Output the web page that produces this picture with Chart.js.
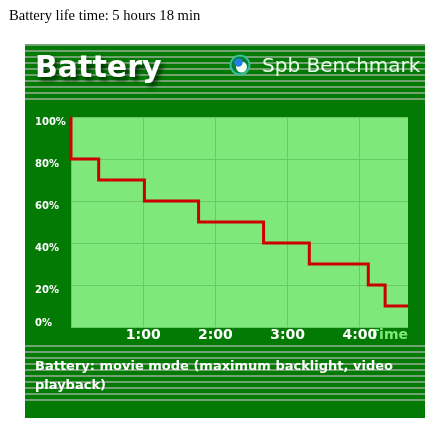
<!DOCTYPE html>
<html>
<head>
<meta charset="utf-8">
<title>Battery</title>
<script src="https://cdn.jsdelivr.net/npm/chart.js@4.4.1/dist/chart.umd.min.js"></script>
<style>
  html, body { margin: 0; padding: 0; background: #fff; }
  #wrap { position: relative; width: 440px; height: 427px; }
  #caption {
    position: absolute; left: 9px; top: 8px;
    font: 14.6px/15px "Liberation Serif", "Times New Roman", serif;
    color: #000; white-space: nowrap;
  }
  canvas { position: absolute; left: 0; top: 0; }
</style>
</head>
<body>
<div id="wrap">
  <canvas id="chart" width="440" height="427"></canvas>
  <div id="caption">Battery life time: 5 hours 18 min</div>
</div>
<script>
// battery readings: minutes since start / percent left
const minutes = [0, 0, 23, 61, 106, 160, 198, 247, 261, 280];
const charge = [100, 80, 70, 60, 50, 40, 30, 20, 10, 10];

const hourTicks = [60, 120, 180, 240];
const hourLabels = ['1:00', '2:00', '3:00', '4:00'];
const percentTicks = [0, 20, 40, 60, 80, 100];
const percentLabels = ['0%', '20%', '40%', '60%', '80%', '100%'];

const chartTitle = 'Battery';
const brand = 'Spb Benchmark';
const testNote = ['Battery: movie mode (maximum backlight, video', 'playback)'];

const PANEL_GREEN = '#037a03';
const STRIPE = '#72a272';
const PLOT_GREEN = '#7ee87b';
const GRID = '#69c967';
const LINE_RED = '#cc0000';

Chart.defaults.font.family = '"DejaVu Sans", Verdana, sans-serif';

// dark green board, stripes, plot background and the Spb logo
const panelBackground = {
    id: 'panelBackground',
    beforeDraw(chart) {
        const { ctx, chartArea: a } = chart;
        ctx.save();
        ctx.fillStyle = PANEL_GREEN;
        ctx.fillRect(25, 44, 400, 374);

        ctx.fillStyle = STRIPE;
        for (let y = 44; y <= 98; y += 6) ctx.fillRect(25, y, 400, 2);
        for (let y = 345; y <= 399; y += 6) ctx.fillRect(25, y, 400, 2);

        ctx.fillStyle = PLOT_GREEN;
        ctx.fillRect(a.left, a.top, a.right - a.left, a.bottom - a.top);

        // logo
        ctx.beginPath();
        ctx.arc(240, 65, 9.5, 0, Math.PI * 2);
        ctx.fillStyle = '#0c7f2c';
        ctx.fill();
        ctx.lineWidth = 2;
        ctx.strokeStyle = '#33c0a0';
        ctx.stroke();
        ctx.beginPath();
        ctx.arc(241.5, 67, 5.5, 0, Math.PI * 2);
        ctx.fillStyle = '#f2fff2';
        ctx.fill();
        ctx.beginPath();
        ctx.arc(238.5, 62.5, 4.2, 0, Math.PI * 2);
        ctx.fillStyle = '#1f7fe6';
        ctx.fill();

        ctx.fillStyle = '#eaffea';
        ctx.font = '20px "DejaVu Sans", Verdana, sans-serif';
        ctx.textBaseline = 'alphabetic';
        ctx.fillText(brand, 262, 72);
        ctx.restore();
    }
};

// drop shadow under the big "Battery" heading only
const titleShadow = {
    id: 'titleShadow',
    beforeDraw(chart) {
        const block = chart.titleBlock;
        if (!block || block._shadowed) return;
        const draw = block.draw.bind(block);
        block.draw = function () {
            const ctx = chart.ctx;
            ctx.save();
            ctx.shadowColor = 'rgba(0, 35, 0, 0.8)';
            ctx.shadowOffsetX = 3;
            ctx.shadowOffsetY = 4;
            ctx.shadowBlur = 4;
            draw();
            ctx.restore();
        };
        block._shadowed = true;
    }
};

new Chart(document.getElementById('chart'), {
    type: 'line',
    data: {
        datasets: [{
            data: minutes.map((m, i) => ({ x: m, y: charge[i] })),
            borderColor: LINE_RED,
            borderWidth: 3,
            stepped: true,
            pointRadius: 0,
            fill: false,
            clip: { left: 2, top: 0, right: 0, bottom: 0 }
        }]
    },
    options: {
        responsive: false,
        animation: false,
        devicePixelRatio: 1,
        layout: { padding: { left: 35, right: 32, top: 0, bottom: 0 } },
        plugins: {
            legend: { display: false },
            tooltip: { enabled: false },
            title: {
                display: true,
                text: chartTitle,
                align: 'start',
                color: '#ffffff',
                font: { size: 30, weight: 'bold' },
                padding: { top: 51, bottom: 30 }
            },
            subtitle: {
                display: true,
                position: 'bottom',
                align: 'start',
                text: testNote,
                color: '#ffffff',
                font: { size: 13, weight: 'bold', lineHeight: 1.5 },
                padding: { top: 13, bottom: 31.2 }
            }
        },
        scales: {
            x: {
                type: 'linear',
                min: 0,
                max: 280,
                grid: { color: GRID, drawTicks: false },
                border: { display: false },
                ticks: {
                    stepSize: 60,
                    includeBounds: false,
                    autoSkip: false,
                    maxRotation: 0,
                    padding: 0,
                    color: '#ffffff',
                    font: { size: 14, weight: 'bold' },
                    callback: v => {
                        const i = hourTicks.indexOf(v);
                        return i >= 0 ? hourLabels[i] : '';
                    }
                },
                title: {
                    display: true,
                    text: 'Time',
                    align: 'end',
                    color: PLOT_GREEN,
                    font: { size: 14, weight: 'bold' },
                    padding: 0
                },
                afterFit(scale) { scale.height = 16.8; }
            },
            y: {
                min: 0,
                max: 100,
                grid: { color: GRID, drawTicks: false },
                border: { display: false },
                ticks: {
                    stepSize: 20,
                    crossAlign: 'far',
                    labelOffset: 5,
                    color: '#ffffff',
                    font: { size: 10, weight: 'bold', lineHeight: 1.8 },
                    callback: v => {
                        const i = percentTicks.indexOf(v);
                        if (i < 0) return '';
                        // bottom label sits above its grid line
                        return v === 0 ? [percentLabels[i], ''] : percentLabels[i];
                    }
                },
                afterFit(scale) { scale.width = 36; }
            }
        }
    },
    plugins: [panelBackground, titleShadow]
});
</script>
</body>
</html>
